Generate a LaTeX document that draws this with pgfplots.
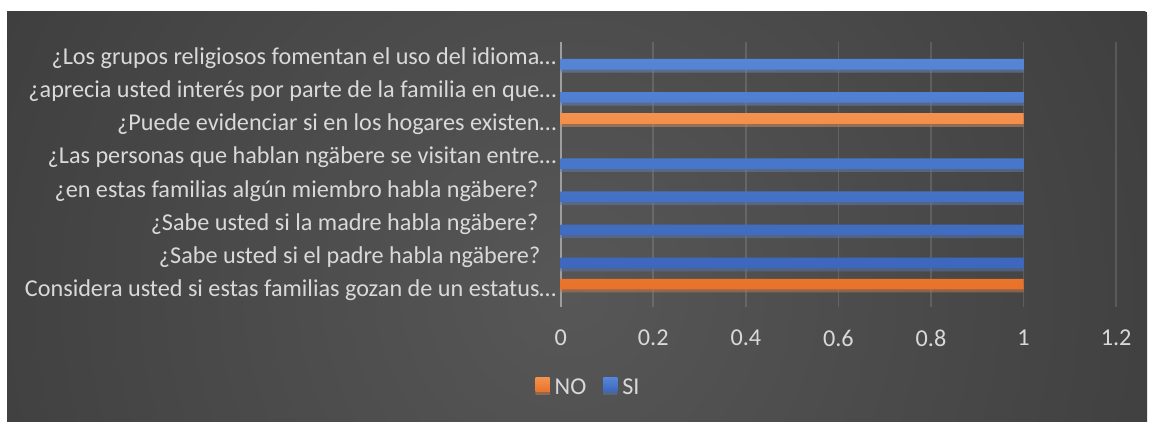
\documentclass[border=0pt]{standalone}
\usepackage{fontspec}
\setmainfont{Carlito}
\usepackage{pgfplots}
\pgfplotsset{compat=1.18}
\usetikzlibrary{shadows}
\definecolor{bgin}{HTML}{575757}
\definecolor{bgout}{HTML}{262626}
\definecolor{lbl}{HTML}{D9D9D9}
\definecolor{noO}{HTML}{ED7D31}
\definecolor{noOt}{HTML}{F4914C}
\definecolor{noOb}{HTML}{E8722A}
\definecolor{siB}{HTML}{4472C4}
\definecolor{siBt}{HTML}{5585D6}
\definecolor{siBb}{HTML}{3C67BC}
\pgfdeclareradialshading{bgshade}{\pgfpoint{0bp}{0bp}}{color(0bp)=(bgin); color(50bp)=(bgout)}
\pgfplotstableread{
y NO SI
0 1 0
1 0 1
2 0 1
3 0 1
4 0 1
5 1 0
6 0 1
7 0 1
}\datatab
\begin{document}
\begin{tikzpicture}
\useasboundingbox (0,0) rectangle (574.5pt,211pt);
\fill[white] (0,0) rectangle (574.5pt,211pt);
\begin{scope}
\clip (3.5pt,0) rectangle (573.5pt,205pt);
\fill[bgout] (3.5pt,0) rectangle (573.5pt,205pt);
\shade[shading=bgshade] (285pt,65pt) circle (320pt);
\end{scope}
\begin{axis}[
  at={(280.35pt,57.65pt)}, anchor=south west,
  scale only axis, width=277.7pt, height=132.5pt,
  xmin=0, xmax=1.2, ymin=-0.5, ymax=7.5,
  xtick={0,0.2,...,1.2},
  ytick={0,...,7},
  yticklabels={
    Considera usted si estas familias gozan de un estatus…,
    ¿Sabe usted si el padre habla ngäbere?\kern8pt,
    ¿Sabe usted si la madre habla ngäbere?\kern9pt,
    ¿en estas familias algún miembro habla ngäbere?\kern9pt,
    ¿Las personas que hablan ngäbere se visitan entre…,
    ¿Puede evidenciar si en los hogares existen…,
    ¿aprecia usted interés por parte de la familia en que…,
    ¿Los grupos religiosos fomentan el uso del idioma…},
  /pgf/number format/assume math mode=true,
  /pgf/number format/fixed,
  axis x line*=bottom, axis y line*=left,
  x axis line style={draw=none},
  y axis line style={draw=white!62!black, line width=1pt},
  major tick length=0pt,
  tick style={draw=none},
  xmajorgrids,
  major grid style={draw=white, opacity=0.13, line width=0.8pt},
  ticklabel style={font=\fontsize{12.1}{14.5}\selectfont, text=lbl},
  yticklabel style={inner xsep=2pt},
  xticklabel shift=8pt,
  xbar, bar width=5.35pt,
  x filter/.expression={x==0 ? nan : x},
  unbounded coords=discard,
  legend columns=2,
  legend style={at={(0.053,-0.307)}, anchor=center, draw=none, fill=none,
    text=lbl, font=\fontsize{12.1}{14.5}\selectfont,
    /tikz/every odd column/.append style={column sep=0pt},
    /tikz/every even column/.append style={column sep=6pt},
    nodes={inner xsep=2.5pt}},
]
\addplot[draw=none, top color=noOt, bottom color=noOb, bar shift=3pt,
  drop shadow={shadow xshift=0pt, shadow yshift=-1.5pt, opacity=0.35},
  legend image code/.code={\fill[noO] (0pt,-1.9pt) rectangle (7pt,5.1pt);}]
  table[x=NO, y=y] {\datatab};
\addlegendentry{NO}
\addplot[draw=none, top color=siBt, bottom color=siBb, bar shift=-3pt,
  drop shadow={shadow xshift=0pt, shadow yshift=-1.5pt, opacity=0.35},
  legend image code/.code={\fill[siB] (0pt,-1.9pt) rectangle (7pt,5.1pt);}]
  table[x=SI, y=y] {\datatab};
\addlegendentry{SI}
\end{axis}
\end{tikzpicture}
\end{document}
